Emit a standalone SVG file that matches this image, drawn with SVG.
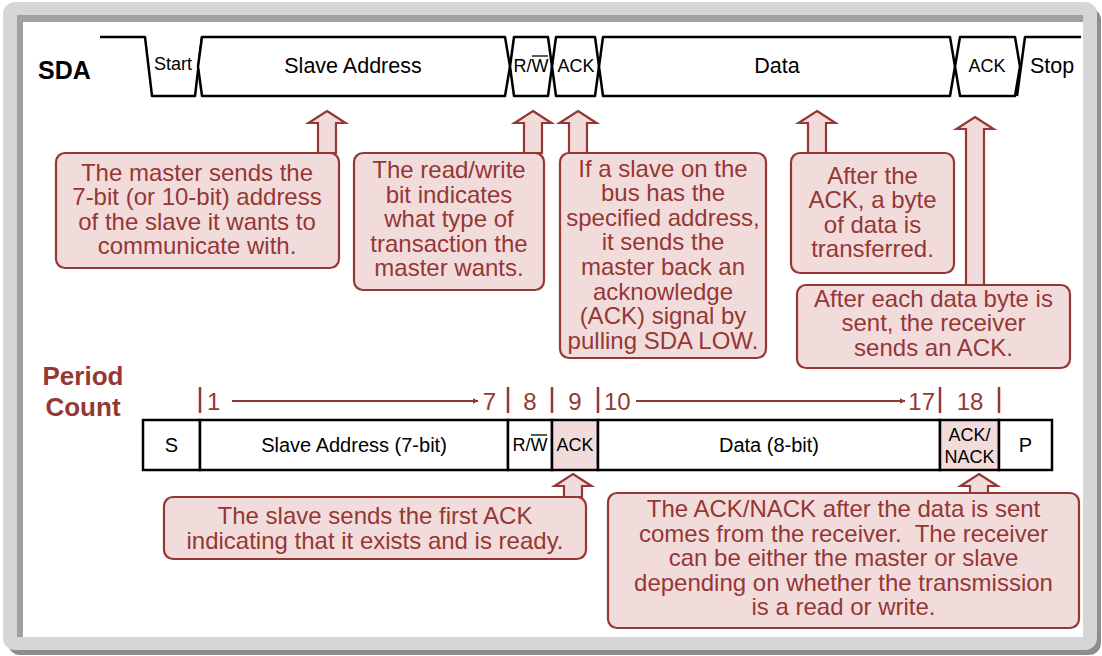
<svg xmlns="http://www.w3.org/2000/svg" width="1102" height="656" viewBox="0 0 1102 656">
  <style>
    text { font-family: "Liberation Sans", Arial, sans-serif; }
    .wave { fill: #ffffff; stroke: #000000; stroke-width: 2.5; stroke-linejoin: round; }
    .wline { fill: none; stroke: #000000; stroke-width: 2.5; stroke-linejoin: round; }
    .wt { font-size: 21.5px; fill: #000000; text-anchor: middle; }
    .ws { font-size: 18px; fill: #000000; text-anchor: middle; }
    .call { fill: #f2dcdb; stroke: #953735; stroke-width: 2.2; }
    .arrow { fill: #f2dcdb; stroke: #953735; stroke-width: 2.2; stroke-linejoin: miter; }
    .ct { font-size: 24px; fill: #953735; text-anchor: middle; }
    .lbl { font-size: 26px; font-weight: bold; fill: #953735; text-anchor: middle; }
    .num { font-size: 24px; fill: #953735; }
    .tick { stroke: #953735; stroke-width: 2.5; }
    .cnt { stroke: #953735; stroke-width: 2; fill: none; }
    .cell { fill: #ffffff; stroke: #000000; stroke-width: 2.5; }
    .cellp { fill: #f2dcdb; stroke: #000000; stroke-width: 2.5; }
    .ft { font-size: 20px; fill: #000000; text-anchor: middle; }
    .fs { font-size: 18px; fill: #000000; text-anchor: middle; }
  </style>
  <defs>
    <marker id="head" viewBox="0 0 10 10" refX="9" refY="5" markerWidth="6" markerHeight="6" markerUnits="userSpaceOnUse" orient="auto">
      <path d="M0,0 L10,5 L0,10 z" fill="#953735"/>
    </marker>
  </defs>

  <!-- panel frame -->
  <g id="panel">
    <rect x="8" y="8" width="1093" height="647" rx="12" fill="#8e8e8e"/>
    <rect x="3" y="2" width="1094" height="648" rx="12" fill="#d6d6d6"/>
    <rect x="17" y="15" width="1066" height="622" fill="#a0a0a0"/>
    <rect x="23" y="22" width="1060" height="615" fill="#ffffff"/>
  </g>

  <!-- SDA waveform -->
  <g id="sda">
    <text x="38" y="79" font-size="25" font-weight="bold" fill="#000000">SDA</text>
    <path class="wline" d="M100,37 L145,37 L152,96 L195,96 L202,37"/>
    <polygon class="wave" points="202,37 505,37 510,66.5 505,96 202,96 198,66.5"/>
    <polygon class="wave" points="514,37 548,37 552,66.5 548,96 514,96 510,66.5"/>
    <polygon class="wave" points="556,37 595,37 599,66.5 595,96 556,96 552,66.5"/>
    <polygon class="wave" points="603,37 950,37 955,66.5 950,96 603,96 599,66.5"/>
    <polygon class="wave" points="960,37 1015,37 1020,66.5 1015,96 960,96 955,66.5"/>
    <path class="wline" d="M1017,96 L1025,37 L1081,37"/>
    <text class="ws" x="173" y="70">Start</text>
    <text class="wt" x="353" y="73">Slave Address</text>
    <text class="ws" x="531" y="72">R/W</text>
    <line x1="532" y1="56" x2="548" y2="56" stroke="#000000" stroke-width="1.3"/>
    <text class="ws" x="576" y="72">ACK</text>
    <text class="wt" x="777" y="73">Data</text>
    <text class="ws" x="987" y="72">ACK</text>
    <text class="wt" x="1052" y="73">Stop</text>
  </g>

  <!-- callout pointers -->
  <g id="pointers">
    <polygon class="arrow" points="327,111 345.5,123 336,123 336,153 318,153 318,123 308.5,123"/>
    <polygon class="arrow" points="533,111 551.5,123 542,123 542,153 524,153 524,123 514.5,123"/>
    <polygon class="arrow" points="578,111 596.5,123 587,123 587,153 569,153 569,123 559.5,123"/>
    <polygon class="arrow" points="817,111 835.5,123 826,123 826,153 808,153 808,123 798.5,123"/>
    <polygon class="arrow" points="975,117 993.5,129 984,129 984,285 966,285 966,129 956.5,129"/>
    <polygon class="arrow" points="573,474 591.5,486 582,486 582,497 564,497 564,486 554.5,486"/>
    <polygon class="arrow" points="979,474 997.5,486 988,486 988,493 970,493 970,486 960.5,486"/>
  </g>

  <g id="note-address">
    <rect class="call" x="56" y="153" width="283" height="115" rx="9"/>
    <text class="ct" x="197" y="180.5">The master sends the</text>
    <text class="ct" x="197" y="205">7-bit (or 10-bit) address</text>
    <text class="ct" x="197" y="229.6">of the slave it wants to</text>
    <text class="ct" x="197" y="254.2">communicate with.</text>
  </g>

  <g id="note-rw">
    <rect class="call" x="354" y="153" width="190" height="137" rx="9"/>
    <text class="ct" x="449" y="178">The read/write</text>
    <text class="ct" x="449" y="202.6">bit indicates</text>
    <text class="ct" x="449" y="227.2">what type of</text>
    <text class="ct" x="449" y="251.8">transaction the</text>
    <text class="ct" x="449" y="276.4">master wants.</text>
  </g>

  <g id="note-ack">
    <rect class="call" x="560" y="153" width="206" height="205" rx="9"/>
    <text class="ct" x="663" y="176.5">If a slave on the</text>
    <text class="ct" x="663" y="201.1">bus has the</text>
    <text class="ct" x="663" y="225.7">specified address,</text>
    <text class="ct" x="663" y="250.3">it sends the</text>
    <text class="ct" x="663" y="274.9">master back an</text>
    <text class="ct" x="663" y="299.5">acknowledge</text>
    <text class="ct" x="663" y="324.1">(ACK) signal by</text>
    <text class="ct" x="663" y="348.7">pulling SDA LOW.</text>
  </g>

  <g id="note-data">
    <rect class="call" x="791" y="153" width="163" height="120" rx="9"/>
    <text class="ct" x="872.5" y="183.5">After the</text>
    <text class="ct" x="872.5" y="208">ACK, a byte</text>
    <text class="ct" x="872.5" y="232.5">of data is</text>
    <text class="ct" x="872.5" y="257">transferred.</text>
  </g>

  <g id="note-receiver">
    <rect class="call" x="797" y="285" width="273" height="83" rx="9"/>
    <text class="ct" x="933.5" y="306.5">After each data byte is</text>
    <text class="ct" x="933.5" y="331">sent, the receiver</text>
    <text class="ct" x="933.5" y="355.5">sends an ACK.</text>
  </g>

  <!-- period count -->
  <g id="period-count">
    <text class="lbl" x="83" y="385">Period</text>
    <text class="lbl" x="83" y="416">Count</text>
    <line class="tick" x1="200" y1="387" x2="200" y2="413"/>
    <line class="tick" x1="508" y1="387" x2="508" y2="413"/>
    <line class="tick" x1="552" y1="387" x2="552" y2="413"/>
    <line class="tick" x1="598" y1="387" x2="598" y2="413"/>
    <line class="tick" x1="940" y1="387" x2="940" y2="413"/>
    <line class="tick" x1="999" y1="387" x2="999" y2="413"/>
    <text class="num" x="207" y="410">1</text>
    <text class="num" x="496" y="410" text-anchor="end">7</text>
    <text class="num" x="530" y="410" text-anchor="middle">8</text>
    <text class="num" x="575" y="410" text-anchor="middle">9</text>
    <text class="num" x="604" y="410">10</text>
    <text class="num" x="935" y="410" text-anchor="end">17</text>
    <text class="num" x="970" y="410" text-anchor="middle">18</text>
  </g>

  <g id="count-arrows">
    <line class="cnt" x1="232" y1="401" x2="478" y2="401" marker-end="url(#head)"/>
    <line class="cnt" x1="636" y1="401" x2="905" y2="401" marker-end="url(#head)"/>
  </g>

  <!-- message frame -->
  <g id="frame">
    <rect class="cell" x="143" y="420" width="57" height="50"/>
    <rect class="cell" x="200" y="420" width="308" height="50"/>
    <rect class="cell" x="508" y="420" width="44" height="50"/>
    <rect class="cellp" x="552" y="420" width="46" height="50"/>
    <rect class="cell" x="598" y="420" width="342" height="50"/>
    <rect class="cellp" x="940" y="420" width="59" height="50"/>
    <rect class="cell" x="999" y="420" width="53" height="50"/>
    <text class="ft" x="171.5" y="452">S</text>
    <text class="ft" x="354" y="452">Slave Address (7-bit)</text>
    <text class="fs" x="530" y="451">R/W</text>
    <line x1="531" y1="435" x2="547" y2="435" stroke="#000000" stroke-width="1.3"/>
    <text class="fs" x="575" y="451">ACK</text>
    <text class="ft" x="769" y="452">Data (8-bit)</text>
    <text class="fs" x="969.5" y="441">ACK/</text>
    <text class="fs" x="969.5" y="463">NACK</text>
    <text class="ft" x="1025.5" y="452">P</text>
  </g>

  <g id="note-first-ack">
    <rect class="call" x="164" y="497" width="422" height="62" rx="9"/>
    <text class="ct" x="375" y="523.5">The slave sends the first ACK</text>
    <text class="ct" x="375" y="549">indicating that it exists and is ready.</text>
  </g>

  <g id="note-nack">
    <rect class="call" x="608" y="493" width="471" height="135" rx="9"/>
    <text class="ct" x="843.5" y="517">The ACK/NACK after the data is sent</text>
    <text class="ct" x="843.5" y="541.6">comes from the receiver.&#160; The receiver</text>
    <text class="ct" x="843.5" y="566.2">can be either the master or slave</text>
    <text class="ct" x="843.5" y="590.8">depending on whether the transmission</text>
    <text class="ct" x="843.5" y="615.4">is a read or write.</text>
  </g>
</svg>
